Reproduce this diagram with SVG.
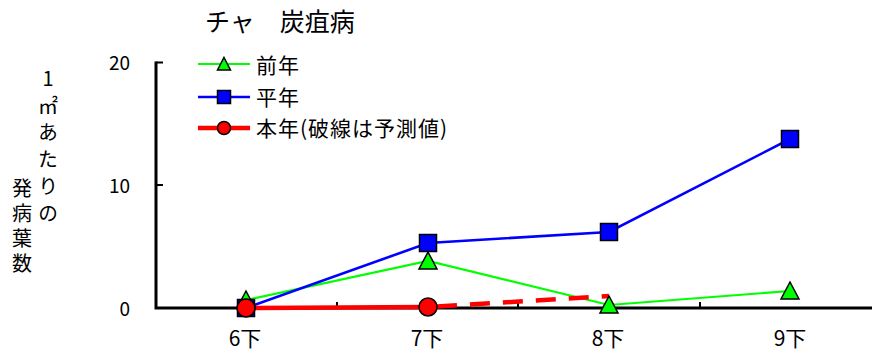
<svg xmlns="http://www.w3.org/2000/svg" width="872" height="351" viewBox="0 0 872 351">
<style>
text{font-family:"Noto Sans CJK JP","Liberation Sans",sans-serif;fill:#000}
.ax{stroke:#000;stroke-width:3;fill:none}
.tk{stroke:#000;stroke-width:2;fill:none}
.g{stroke:#00ff00;stroke-width:2.2;fill:none}
.b{stroke:#0000ff;stroke-width:2.6;fill:none}
.r{stroke:#ff0000;stroke-width:4.5;fill:none}
.rd{stroke:#ff0000;stroke-width:4.5;fill:none;stroke-dasharray:20 13}
.mg{fill:#00ff00;stroke:#000;stroke-width:1.5}
.mb{fill:#0000ff;stroke:#000;stroke-width:1.5}
.mr{fill:#ff0000;stroke:#000;stroke-width:1.5}
.tl{font-size:19px;text-anchor:end}
.xl{font-size:21px;text-anchor:middle}
.lg{font-size:21px;letter-spacing:1px}
.vt{font-size:20px;writing-mode:vertical-rl;text-orientation:upright}
</style>
<defs>
<path id="tri" d="M0,-9 L9,8 L-9,8 Z"/>
<rect id="sq" x="-8.5" y="-8.5" width="17" height="17"/>
<path id="tris" d="M0,-6.5 L6.5,6 L-6.5,6 Z"/>
<rect id="sqs" x="-6.5" y="-6.5" width="13" height="13"/>
</defs>
<g id="title"><text x="205" y="31" style="font-size:25px">チャ　炭疽病</text></g>
<g id="ylabel">
<text class="vt" x="48" y="68" style="letter-spacing:7px">1㎡あたりの</text>
<text class="vt" x="22" y="178" style="letter-spacing:5px">発病葉数</text>
</g>
<g id="axes">
<path class="ax" d="M156,61.5 V308 H872"/>
<path class="tk" d="M156,62.5 H163 M156,185 H163 M337,308 V302 M518,308 V302 M700,308 V302"/>
<text class="tl" x="130" y="70">20</text>
<text class="tl" x="130" y="193">10</text>
<text class="tl" x="130" y="316">0</text>
<text class="xl" x="245" y="346">6下</text>
<text class="xl" x="427" y="346">7下</text>
<text class="xl" x="608" y="346">8下</text>
<text class="xl" x="790" y="346">9下</text>
</g>
<g id="connectors">
<polyline class="g" points="246,300 428,261 609,305 790,291"/>
<polyline class="b" points="246,308 428,243 609,232 790,139"/>
<polyline class="r" points="246,308 428,307"/>
<polyline class="rd" points="437,306.5 609,296"/>
</g>
<g id="series-prev">
<use href="#tri" class="mg" x="246" y="300"/>
<use href="#tri" class="mg" x="428" y="261"/>
<use href="#tri" class="mg" x="609" y="305"/>
<use href="#tri" class="mg" x="790" y="291"/>
</g>
<g id="series-normal">
<use href="#sq" class="mb" x="246" y="308"/>
<use href="#sq" class="mb" x="428" y="243"/>
<use href="#sq" class="mb" x="609" y="232"/>
<use href="#sq" class="mb" x="790" y="139"/>
</g>
<g id="series-this">
<circle class="mr" cx="246" cy="308" r="9"/>
<circle class="mr" cx="428" cy="307" r="9"/>
</g>
<g id="legend">
<line class="g" x1="198" y1="64" x2="250" y2="64"/>
<use href="#tris" class="mg" x="224" y="64"/>
<text class="lg" x="256" y="73">前年</text>
<line class="b" x1="198" y1="97" x2="250" y2="97"/>
<use href="#sqs" class="mb" x="224" y="97"/>
<text class="lg" x="256" y="105">平年</text>
<line class="r" x1="198" y1="128" x2="250" y2="128"/>
<circle class="mr" cx="224" cy="128" r="6.5"/>
<text class="lg" x="256" y="136">本年(破線は予測値)</text>
</g>
</svg>
